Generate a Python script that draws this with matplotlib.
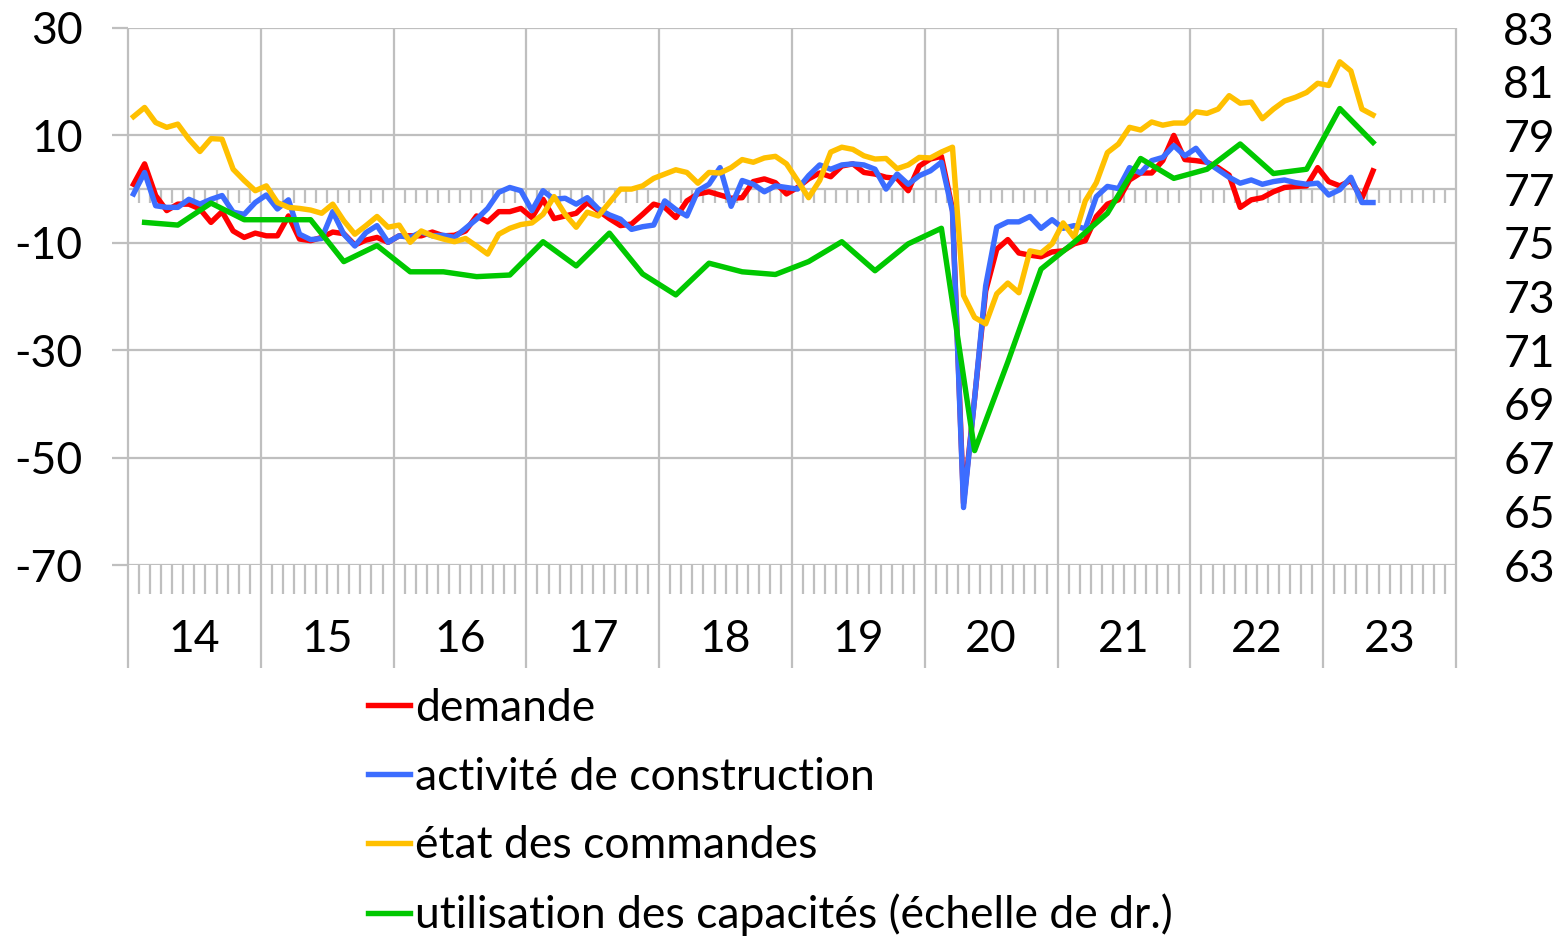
import matplotlib
matplotlib.use("Agg")
import matplotlib.pyplot as plt
import numpy as np

plt.rcParams['font.family'] = ['Lato', 'DejaVu Sans']

# monthly indicators, Jan 2014 .. May 2023 (solde d'opinions)
demande = [
    0.9, 4.7, -1.2, -4.0, -2.8, -2.8, -3.7, -6.2, -4.2, -7.8, -9.0, -8.2,
    -8.7, -8.7, -5.0, -9.3, -9.6, -9.0, -8.0, -8.3, -10.4, -9.5, -9.0, -9.9,
    -8.7, -8.7, -8.7, -8.0, -8.7, -8.6, -7.8, -5.0, -6.1, -4.2, -4.2, -3.6,
    -5.3, -1.9, -5.5, -5.0, -4.5, -2.5, -4.0, -5.5, -6.8, -6.5, -4.7, -2.8,
    -3.4, -5.3, -2.2, -0.9, -0.5, -1.1, -1.7, -1.6, 1.4, 1.9, 1.2, -0.9,
    0.3, 1.9, 3.0, 2.3, 4.3, 4.7, 3.1, 2.8, 2.2, 2.0, -0.3, 4.3,
    5.6, 6.1, -3.7, -58.5, -39.0, -19.0, -11.2, -9.4, -11.9, -12.3, -12.6, -11.7,
    -11.5, -10.2, -9.6, -5.1, -2.8, -2.0, 1.7, 3.0, 3.0, 5.3, 10.0, 5.5,
    5.3, 5.0, 4.0, 2.6, -3.4, -2.0, -1.6, -0.5, 0.3, 0.5, 0.6, 4.0,
    1.4, 0.6, 1.6, -1.7, 3.4,
]
activite = [
    -0.9, 3.1, -3.1, -3.4, -3.4, -1.9, -2.8, -1.9, -1.2, -4.3, -4.7, -2.5,
    -1.1, -3.7, -2.0, -8.4, -9.4, -9.2, -4.2, -8.4, -10.6, -8.1, -6.8, -9.9,
    -8.7, -9.0, -8.0, -8.7, -8.6, -9.0, -7.3, -5.6, -3.6, -0.6, 0.3, -0.3,
    -4.0, -0.3, -1.9, -1.7, -2.8, -1.6, -3.7, -4.8, -5.6, -7.5, -7.0, -6.7,
    -2.2, -3.8, -5.0, -0.3, 0.9, 4.0, -3.2, 1.6, 0.9, -0.5, 0.6, 0.3,
    0.0, 2.5, 4.5, 3.7, 4.5, 4.7, 4.5, 3.7, 0.0, 2.8, 0.9, 2.5,
    3.4, 5.0, -4.2, -59.3, -39.0, -18.0, -7.1, -6.1, -6.1, -5.1, -7.3, -5.7,
    -7.3, -6.8, -7.4, -1.4, 0.5, 0.1, 4.0, 3.0, 5.3, 5.9, 8.1, 6.2,
    7.6, 5.0, 3.6, 2.2, 1.1, 1.7, 0.9, 1.4, 1.7, 1.2, 0.9, 1.1,
    -1.1, -0.1, 2.2, -2.5, -2.5,
]
commandes = [
    13.5, 15.2, 12.4, 11.5, 12.1, 9.3, 7.0, 9.4, 9.3, 3.7, 1.6, -0.3,
    0.6, -2.5, -3.4, -3.6, -3.9, -4.5, -2.8, -5.9, -8.4, -6.8, -5.1, -7.1,
    -6.7, -9.9, -7.8, -8.7, -9.3, -9.8, -9.2, -10.6, -12.1, -8.4, -7.3, -6.6,
    -6.3, -4.7, -1.4, -4.7, -7.1, -4.3, -5.0, -2.5, 0.0, 0.0, 0.6, 2.0,
    2.8, 3.6, 3.1, 1.1, 3.1, 3.0, 4.0, 5.5, 5.0, 5.8, 6.1, 4.7,
    1.6, -1.6, 1.6, 6.9, 7.8, 7.4, 6.2, 5.6, 5.7, 3.8, 4.5, 5.9,
    5.8, 6.9, 7.8, -19.8, -23.9, -25.1, -19.5, -17.5, -19.3, -11.5, -11.9, -10.2,
    -6.3, -9.0, -2.2, 1.2, 6.8, 8.4, 11.5, 11.0, 12.5, 11.9, 12.3, 12.3,
    14.4, 14.1, 14.9, 17.4, 16.0, 16.2, 13.1, 14.9, 16.4, 17.1, 18.0, 19.7,
    19.3, 23.7, 22.0, 14.9, 13.8,
]

# quarterly capacity utilisation (%), first reading Feb 2014 then every 3 months
capacites = [
    75.76, 75.66, 76.48, 75.86, 75.86, 75.86, 74.30, 74.90,
    73.92, 73.92, 73.74, 73.80, 75.04, 74.14, 75.36, 73.84,
    73.06, 74.24, 73.92, 73.82, 74.30, 75.04, 73.96, 74.96,
    75.54, 67.26, 70.56, 74.02, 75.02, 76.10, 78.14, 77.40,
    77.74, 78.68, 77.58, 77.74, 80.00, 78.74,
]

years = ['14', '15', '16', '17', '18', '19', '20', '21', '22', '23']
left_ticks = [-70, -50, -30, -10, 10, 30]
right_ticks = list(range(63, 84, 2))

n_months = 12 * len(years)
x_month = np.arange(len(demande))
x_quarter = 1 + 3 * np.arange(len(capacites))

grid_c = '#BFBFBF'
px = 1 / 5.375  # one pixel in left-axis units
lw = 3.9
fs = 32

fig = plt.figure(figsize=(15.6, 9.38), dpi=100)
ax = fig.add_axes([128 / 1560, 1 - 565 / 938, (1456 - 128) / 1560, (565 - 28) / 938])
ax.set_xlim(-0.5, n_months - 0.5)
ax.set_ylim(-70, 30)
for s in ax.spines.values():
    s.set_visible(False)

# horizontal grid
for v in left_ticks:
    ax.axhline(v, color=grid_c, lw=1.6, zorder=1)

# year separators run down through the label band
bounds = np.arange(0, n_months + 1, 12) - 0.5
ax.vlines(bounds, -70 - 103 * px, 30, color=grid_c, lw=1.6, clip_on=False, zorder=1)

# category axis crossing at zero with monthly ticks
month_b = np.array([k - 0.5 for k in range(1, n_months) if k % 12 != 0])
ax.axhline(0, color=grid_c, lw=1.6, zorder=1)
ax.vlines(month_b, -14 * px, 0, color=grid_c, lw=1.6, zorder=1)
# and a copy at the bottom
ax.vlines(month_b, -70 - 29 * px, -70, color=grid_c, lw=1.6, clip_on=False, zorder=1)

for k, yr in enumerate(years):
    ax.text(12 * k + 5.5, -70 - 75 * px, yr, ha='center', va='center', fontsize=fs)

l1, = ax.plot(x_month, demande, color='#FF0000', lw=lw, zorder=3)
l2, = ax.plot(x_month, activite, color='#3C6DFF', lw=lw, zorder=4)
l3, = ax.plot(x_month, commandes, color='#FFC000', lw=lw, zorder=5)

ax.set_xticks([])
ax.set_yticks(left_ticks)
ax.set_yticklabels([str(v) for v in left_ticks])
ax.tick_params(axis='y', length=11.5, width=1.6, color=grid_c, pad=21, labelsize=fs)

ax2 = ax.twinx()
ax2.set_ylim(63, 83)
for s in ax2.spines.values():
    s.set_visible(False)
l4, = ax2.plot(x_quarter, capacites, color='#00C800', lw=lw, zorder=6)
ax2.set_yticks(right_ticks)
ax2.set_yticklabels([str(v) for v in right_ticks])
ax2.tick_params(axis='y', length=0, pad=34, labelsize=fs)

fig.legend([l1, l2, l3, l4],
           ['demande', 'activité de construction', 'état des commandes',
            'utilisation des capacités (échelle de dr.)'],
           loc='upper left', bbox_to_anchor=(368 / 1560, 1 - 688 / 938),
           frameon=False, fontsize=32, handlelength=0.95, handletextpad=0.1,
           borderpad=0, borderaxespad=0, labelspacing=0.62)

fig.savefig('out.png', dpi=100)
